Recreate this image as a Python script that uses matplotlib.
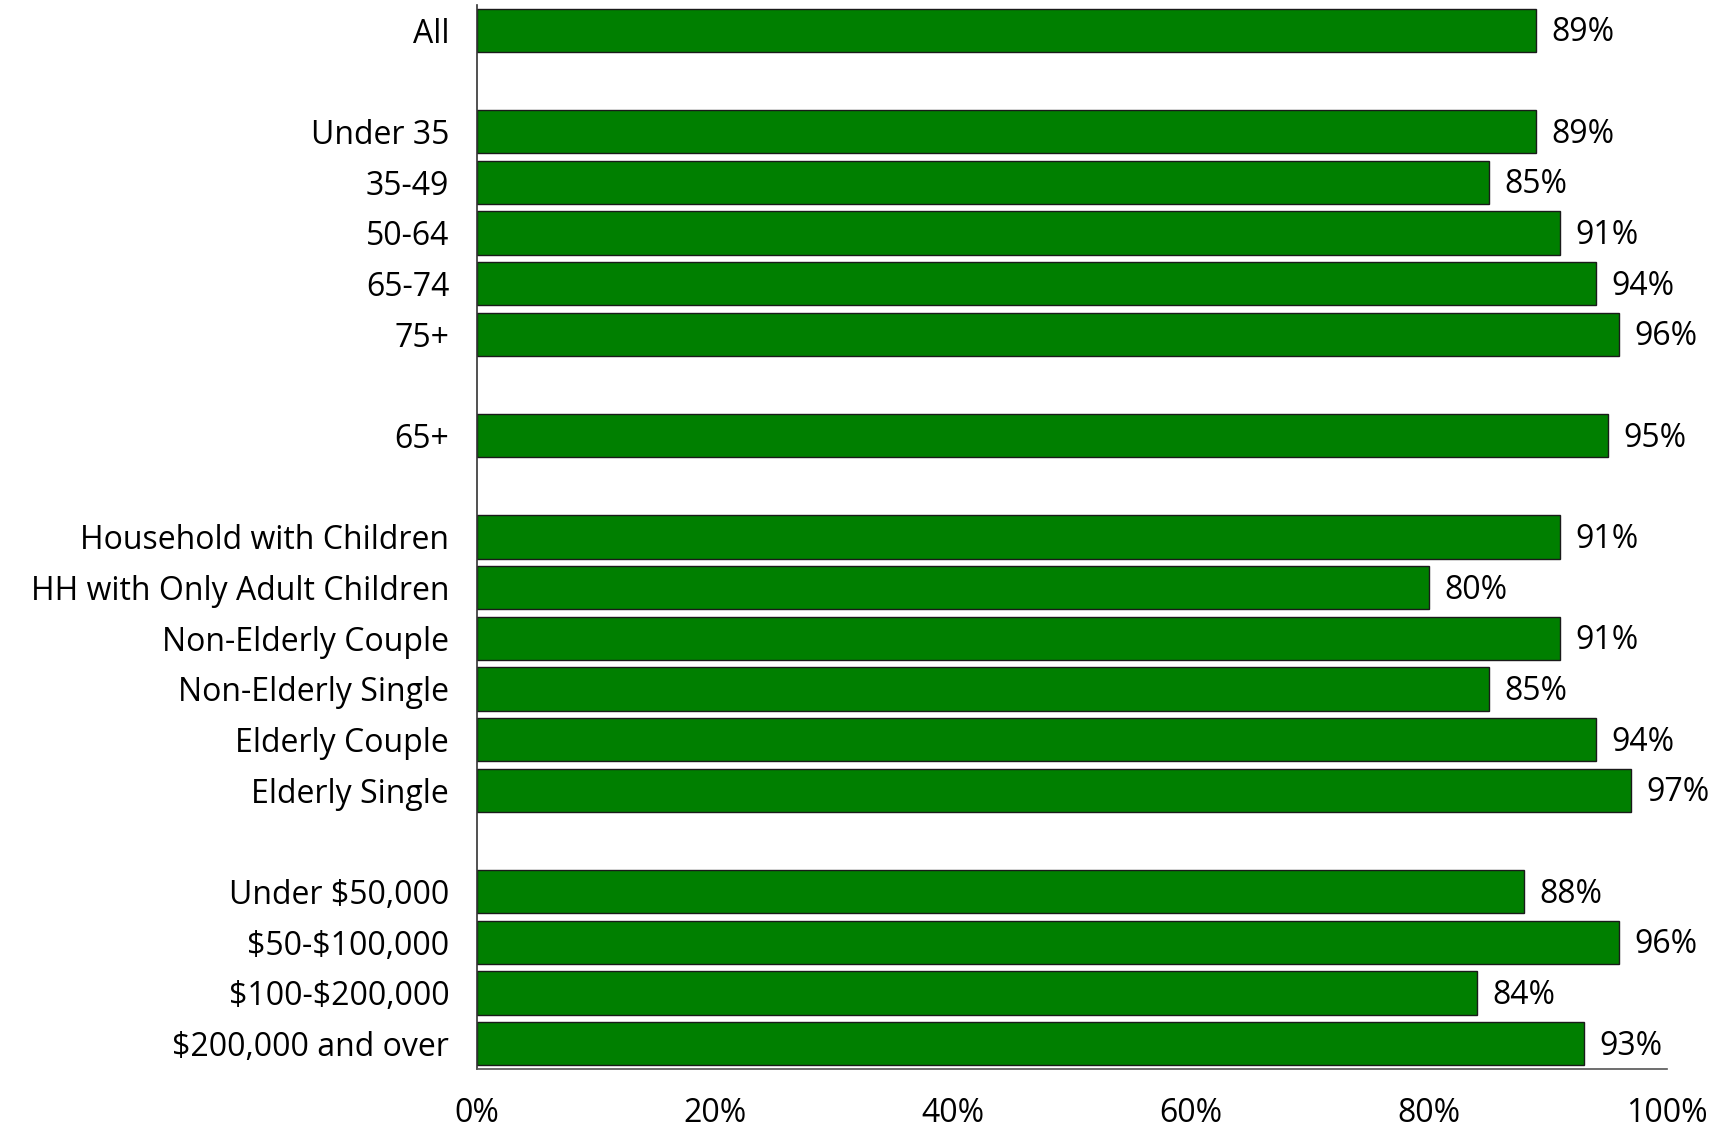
import matplotlib
matplotlib.use("Agg")
import matplotlib.pyplot as plt
import numpy as np

plt.rcParams['font.family'] = ['Open Sans', 'DejaVu Sans']
plt.rcParams['text.parse_math'] = False

# Data (groups separated by blank rows)
group_all_labels = ["All"]
group_all_values = [89]
age_labels = ["Under 35", "35-49", "50-64", "65-74", "75+"]
age_values = [89, 85, 91, 94, 96]
elderly_labels = ["65+"]
elderly_values = [95]
hh_labels = ["Household with Children", "HH with Only Adult Children",
             "Non-Elderly Couple", "Non-Elderly Single", "Elderly Couple",
             "Elderly Single"]
hh_values = [91, 80, 91, 85, 94, 97]
income_labels = ["Under $50,000", "$50-$100,000", "$100-$200,000",
                 "$200,000 and over"]
income_values = [88, 96, 84, 93]
x_ticks = [0, 20, 40, 60, 80, 100]

groups = [(group_all_labels, group_all_values), (age_labels, age_values),
          (elderly_labels, elderly_values), (hh_labels, hh_values),
          (income_labels, income_values)]

labels, values, pos = [], [], []
p = 0
for gi, (ls, vs) in enumerate(groups):
    for l, v in zip(ls, vs):
        labels.append(l)
        values.append(v)
        pos.append(p)
        p += 1
    p += 1
n_slots = p - 1

fig = plt.figure(figsize=(17.25, 11.29), dpi=100)
ax = fig.add_axes([477/1725, 1 - 1069/1129, (1667-477)/1725, (1069-5)/1129])

ax.barh(pos, values, height=0.86, color="#007F00", edgecolor="#1a1a1a",
        linewidth=1.0)
for y, v in zip(pos, values):
    ax.text(v + 1.3, y + 0.05, f"{v}%", va="center", ha="left", fontsize=23,
            color="black")

ax.set_ylim(n_slots - 0.5, -0.5)
ax.set_xlim(0, 100)
ax.set_yticks(pos)
ax.set_yticklabels(labels, fontsize=23)
ax.set_xticks(x_ticks)
ax.set_xticklabels([f"{t}%" for t in x_ticks], fontsize=23)
ax.tick_params(axis='y', length=0, pad=20)
ax.tick_params(axis='x', length=0, pad=20)
for s in ["top", "right"]:
    ax.spines[s].set_visible(False)
ax.spines["left"].set_color("#333333")
ax.spines["bottom"].set_color("#555555")
ax.spines["left"].set_linewidth(1.2)
ax.spines["bottom"].set_linewidth(1.2)

fig.savefig("out.png", dpi=100)
